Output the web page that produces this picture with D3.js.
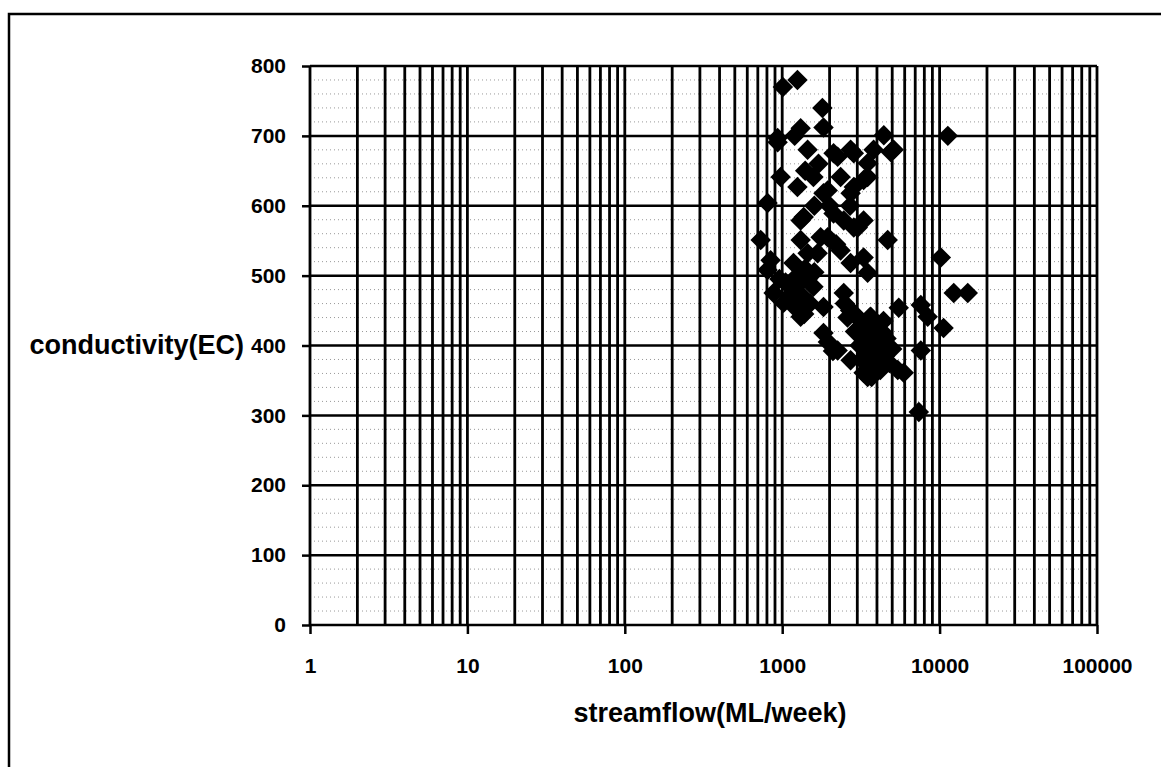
<html lang="en">
<head>
<meta charset="utf-8">
<title>Streamflow vs conductivity</title>
<style>
  body { margin: 0; background: white; }
  svg { background: white; }
  .lbl { font-family: "Liberation Sans", Arial, Helvetica, sans-serif; font-weight: bold; fill: black; }
  .axis text { font-family: "Liberation Sans", Arial, Helvetica, sans-serif; font-weight: bold; font-size: 21px; }
  .axis path { display: none; }
  .axis line { stroke: black; stroke-width: 2.5; }
</style>
</head>
<body>
<script src="https://cdnjs.cloudflare.com/ajax/libs/d3/7.8.5/d3.min.js"></script>
<script>
// values (streamflow ML/week, conductivity EC)
var streamflow = [
  1250, 1010, 1800, 1310, 1830, 935, 4420, 11280, 5110, 1450, 2250, 2850,
  3490, 977, 1250, 1830, 2720, 807, 1310, 2120, 3020, 4680, 730, 1755,
  2350, 2850, 1945, 1580, 1370, 2460, 2850, 1310, 1945, 1450, 2350, 935, 2120, 2720,
  3810, 4890, 3490, 3290, 3290, 10180,
  844, 807, 1180, 1680, 2720, 3290, 882, 1180, 1580, 1310, 1020, 1830, 2460, 2850,
  1830, 2250, 2720, 3290, 3290,
  3490, 12300, 15100, 5500, 7600, 8400, 10600, 7600, 3650, 4050, 3810, 5420, 5920, 7380,
  960, 1100, 1250, 1400, 1350, 1200, 1500, 1380, 1600, 1050, 1450, 1300,
  1950, 2100,
  3000, 3200, 3400, 3600, 3800, 4000, 4200, 3500, 3300, 3700, 3900, 4100, 4400, 4600,
  4300, 3100, 2900, 3600, 4000, 4500, 4800, 3400, 3700, 4200, 5000, 2700, 2500, 2600,
  4400, 3200, 3490,
  1700, 1600, 2000, 2200, 2700, 1400, 1200
];
var conductivity = [
  780, 770, 740, 711, 712, 697, 701, 700, 680, 680, 670, 675,
  641, 641, 627, 618, 618, 604, 579, 589, 569, 551, 551, 555,
  641, 627, 622, 641, 584, 579, 569, 551, 555, 532, 536, 691, 675, 680,
  680, 677, 661, 637, 579, 526,
  522, 508, 518, 532, 518, 526, 475, 484, 484, 441, 461, 455, 475, 446,
  418, 393, 379, 361, 432,
  504, 475, 475, 454, 458, 441, 425, 393, 441, 412, 375, 365, 361, 305,
  495, 470, 500, 510, 470, 455, 460, 445, 505, 490, 495, 490,
  405, 392,
  440, 420, 430, 410, 420, 400, 390, 395, 405, 385, 370, 380, 400, 410,
  420, 400, 420, 440, 430, 385, 375, 360, 355, 365, 395, 450, 460, 440,
  435, 380, 355,
  660, 600, 600, 545, 600, 650, 700
];
var xTicks = [1, 10, 100, 1000, 10000, 100000];
var yTicks = [0, 100, 200, 300, 400, 500, 600, 700, 800];

var W = 1161, H = 767;
var plot = {left: 310, right: 1097, top: 66, bottom: 625};

var svg = d3.select("body").append("svg")
  .attr("width", W)
  .attr("height", H);

var x = d3.scaleLog().domain([1, 100000]).range([plot.left, plot.right]);
var y = d3.scaleLinear().domain([0, 800]).range([plot.bottom, plot.top]);

// outer frame (runs off the right and bottom of the picture)
svg.append("rect")
  .attr("x", 9).attr("y", 14)
  .attr("width", 1300).attr("height", 900)
  .attr("fill", "none")
  .attr("stroke", "black")
  .attr("stroke-width", 2.5);

// minor dotted horizontal grid every 20
var minorY = d3.range(20, 800, 20).filter(function(v) { return v % 100 !== 0; });
svg.append("g").selectAll("line")
  .data(minorY)
  .enter().append("line")
  .attr("x1", plot.left).attr("x2", plot.right)
  .attr("y1", function(d) { return y(d); })
  .attr("y2", function(d) { return y(d); })
  .attr("stroke", "#999")
  .attr("stroke-width", 1)
  .attr("stroke-dasharray", "1,3");

// major horizontal grid
svg.append("g").selectAll("line")
  .data(yTicks)
  .enter().append("line")
  .attr("x1", plot.left).attr("x2", plot.right)
  .attr("y1", function(d) { return y(d); })
  .attr("y2", function(d) { return y(d); })
  .attr("stroke", "black")
  .attr("stroke-width", 2.5);

// vertical grid at every log step
var xGrid = [];
xTicks.slice(0, -1).forEach(function(p) {
  for (var m = 1; m < 10; m++) xGrid.push(p * m);
});
xGrid.push(100000);
svg.append("g").selectAll("line")
  .data(xGrid)
  .enter().append("line")
  .attr("x1", function(d) { return x(d); })
  .attr("x2", function(d) { return x(d); })
  .attr("y1", plot.top).attr("y2", plot.bottom)
  .attr("stroke", "black")
  .attr("stroke-width", 2.8);

// axes
var xAxis = d3.axisBottom(x).tickValues(xTicks).tickSize(9).tickPadding(24).tickFormat(d3.format("d"));
var yAxis = d3.axisLeft(y).tickValues(yTicks).tickSize(8).tickPadding(16);

svg.append("g")
  .attr("class", "axis")
  .attr("transform", "translate(0," + plot.bottom + ")")
  .call(xAxis);

svg.append("g")
  .attr("class", "axis")
  .attr("transform", "translate(" + plot.left + ",0)")
  .call(yAxis);

// points: black diamonds
var pts = streamflow.map(function(v, i) { return [v, conductivity[i]]; });
var diamond = d3.symbol().type(d3.symbolSquare).size(210);
svg.append("g").selectAll("path")
  .data(pts)
  .enter().append("path")
  .attr("d", diamond)
  .attr("transform", function(d) {
    return "translate(" + x(d[0]) + "," + y(d[1]) + ") rotate(45)";
  })
  .attr("fill", "black");

// axis titles
svg.append("text")
  .attr("class", "lbl")
  .attr("x", 244).attr("y", 347)
  .attr("text-anchor", "end")
  .attr("dominant-baseline", "middle")
  .attr("font-size", 27)
  .text("conductivity(EC)");

svg.append("text")
  .attr("class", "lbl")
  .attr("x", 710).attr("y", 715)
  .attr("text-anchor", "middle")
  .attr("dominant-baseline", "middle")
  .attr("font-size", 27)
  .text("streamflow(ML/week)");
</script>
</body>
</html>
